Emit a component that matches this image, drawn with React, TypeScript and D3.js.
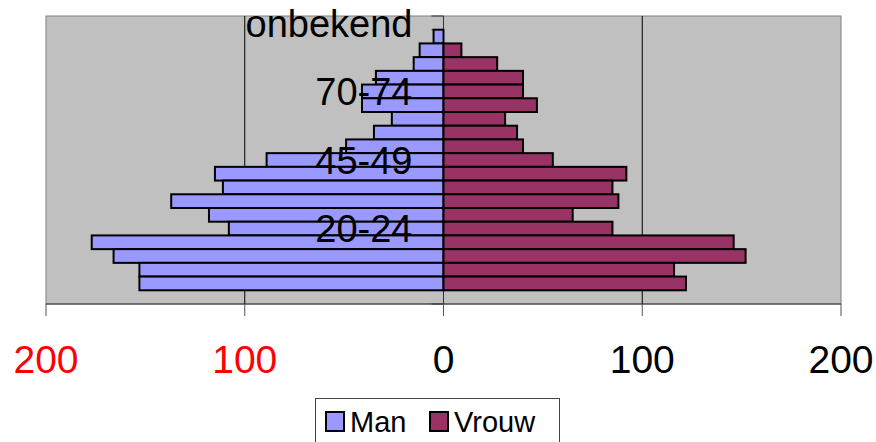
import * as d3 from 'd3';
import React from 'react';

// age groups, top to bottom (last one is the empty row Excel keeps at the bottom)
const categories = [
  'onbekend', '90+', '85-89', '80-84', '75-79', '70-74', '65-69', '60-64',
  '55-59', '50-54', '45-49', '40-44', '35-39', '30-34', '25-29', '20-24',
  '15-19', '10-14', '5-9', '0-4', '',
];
const man = [0, 5, 12, 15, 34, 41, 41, 26, 35, 49, 89, 115, 111, 137, 118, 108, 177, 166, 153, 153, 0];
const vrouw = [0, 0, 9, 27, 40, 40, 47, 31, 37, 40, 55, 92, 85, 88, 65, 85, 146, 152, 116, 122, 0];
const shownLabels = ['onbekend', '70-74', '45-49', '20-24'];
const ticks = [-200, -100, 0, 100, 200];
const legendItems = [
  { name: 'Man', color: '#9999ff' },
  { name: 'Vrouw', color: '#993366' },
];

const W = 876;
const H = 442;
const plot = { left: 46, right: 841, top: 16, bottom: 304 };
const font = 'Arial, "Liberation Sans", sans-serif';

const App = () => {
  const x = d3.scaleLinear().domain([-200, 200]).range([plot.left, plot.right]);
  const y = d3
    .scaleBand<string>()
    .domain(categories.map((c, i) => i + ':' + c))
    .range([plot.top, plot.bottom])
    .padding(0);
  const key = (i: number) => i + ':' + categories[i];
  const x0 = x(0);

  return (
    <svg width={W} height={H} style={{ position: 'absolute', left: 0, top: 0 }}>
      <rect
        x={plot.left}
        y={plot.top}
        width={plot.right - plot.left}
        height={plot.bottom - plot.top}
        fill="#c0c0c0"
        stroke="#808080"
        strokeWidth={1}
      />
      {/* gridlines */}
      {[-100, 100].map((t) => (
        <line key={t} x1={x(t)} x2={x(t)} y1={plot.top} y2={plot.bottom} stroke="#000" strokeWidth={1} />
      ))}
      {/* category axis at 0 with ticks */}
      <line x1={x0} x2={x0} y1={plot.top} y2={plot.bottom} stroke="#333" strokeWidth={1} />
      {categories.map((c, i) => (
        <line key={'t' + i} x1={x0 - 12} x2={x0} y1={y(key(i))} y2={y(key(i))} stroke="#333" strokeWidth={1} />
      ))}
      <line x1={x0 - 12} x2={x0} y1={plot.bottom} y2={plot.bottom} stroke="#333" strokeWidth={1} />
      {/* bars */}
      {man.map((v, i) =>
        v > 0 ? (
          <rect
            key={'m' + i}
            x={x(-v)}
            y={y(key(i))}
            width={x0 - x(-v)}
            height={y.bandwidth()}
            fill="#9999ff"
            stroke="#000"
            strokeWidth={2}
          />
        ) : null,
      )}
      {vrouw.map((v, i) =>
        v > 0 ? (
          <rect
            key={'v' + i}
            x={x0}
            y={y(key(i))}
            width={x(v) - x0}
            height={y.bandwidth()}
            fill="#993366"
            stroke="#000"
            strokeWidth={2}
          />
        ) : null,
      )}
      {/* category labels */}
      {categories.map((c, i) =>
        shownLabels.includes(c) ? (
          <text
            key={'l' + i}
            x={x0 - 31}
            y={(y(key(i)) as number) + y.bandwidth() / 2}
            dy="0.36em"
            textAnchor="end"
            fontFamily={font}
            fontSize={38}
            fill="#000"
          >
            {c}
          </text>
        ) : null,
      )}
      {/* value axis */}
      <line x1={plot.left} x2={plot.right} y1={plot.bottom} y2={plot.bottom} stroke="#333" strokeWidth={1} />
      {ticks.map((t) => (
        <g key={'x' + t}>
          <line x1={x(t)} x2={x(t)} y1={plot.bottom} y2={plot.bottom + 12} stroke="#555" strokeWidth={1} />
          <text
            x={x(t)}
            y={373}
            textAnchor="middle"
            fontFamily={font}
            fontSize={39}
            fill={t < 0 ? '#ff0000' : '#000'}
          >
            {Math.abs(t)}
          </text>
        </g>
      ))}
      {/* legend */}
      <rect x={315.5} y={398.5} width={244} height={60} fill="#fff" stroke="#444" strokeWidth={1} />
      {legendItems.map((d, i) => {
        const lx = i === 0 ? 325 : 429;
        return (
          <g key={d.name}>
            <rect x={lx + 1} y={412} width={18} height={19} fill={d.color} stroke="#000" strokeWidth={2} />
            <text x={lx + 25} y={431.5} fontFamily={font} fontSize={29} fill="#000">
              {d.name}
            </text>
          </g>
        );
      })}
    </svg>
  );
};

export default App;
